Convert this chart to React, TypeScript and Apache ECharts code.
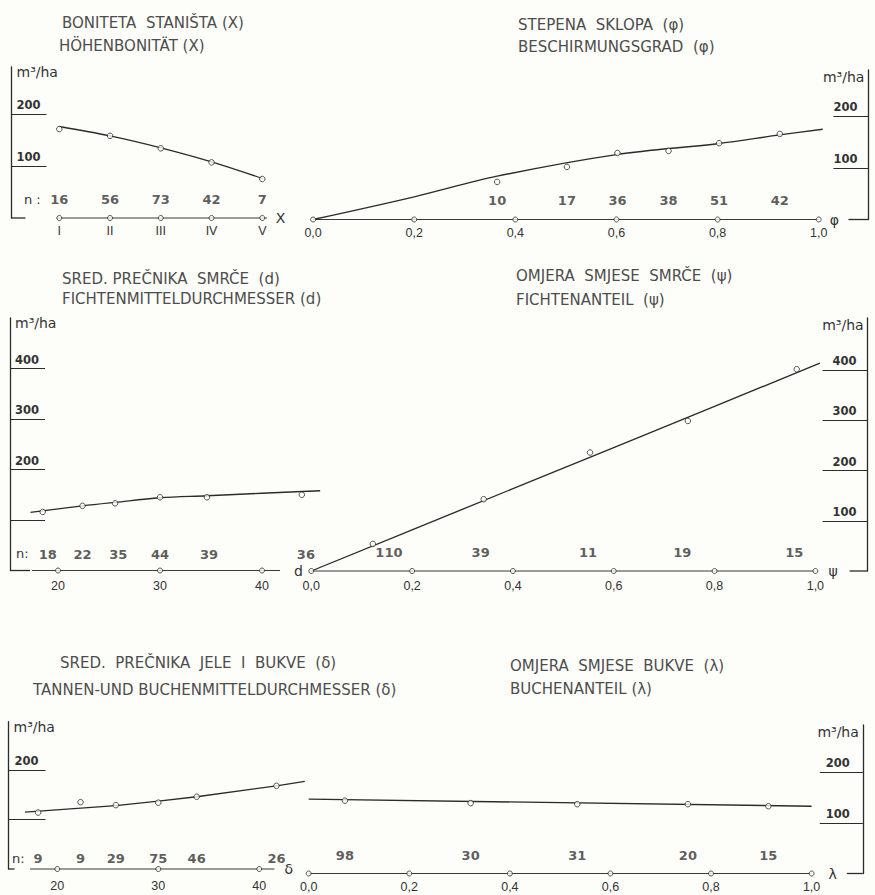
import React, { useEffect, useRef } from 'react';
import * as echarts from 'echarts';

// ---------------- data ----------------
// Panel 1: site class (X)
const siteClasses = ['I', 'II', 'III', 'IV', 'V'];
const siteClassIndex = [1, 2, 3, 4, 5];
const siteVolume = [171, 158, 134, 107, 75];
const siteFitVolume = [176, 158, 135, 108, 76];
const siteN = [16, 56, 73, 42, 7];

// shared share-axis ticks (0,0 ... 1,0)
const shareTicks = [0, 0.2, 0.4, 0.6, 0.8, 1.0];

// Panel 2: canopy closure (phi)
const closure = [0.364, 0.502, 0.602, 0.703, 0.803, 0.923];
const closureVolume = [73, 102, 129, 133, 148, 166];
const closureN = [10, 17, 36, 38, 51, 42];
const closureFitX = [0, 0.2, 0.364, 0.6, 0.8, 0.923, 1.008];
const closureFitY = [0, 44, 84, 126, 147, 164, 175];

// diameter ticks
const diameterTicks = [20, 30, 40];

// Panel 3: spruce mean diameter (d)
const spruceDiam = [18.5, 22.4, 25.6, 30.0, 34.6, 43.9];
const spruceDiamVolume = [116, 128, 133, 145, 145, 150];
const spruceDiamNX = [19.0, 22.4, 25.9, 30.0, 34.8, 44.3];
const spruceDiamN = [18, 22, 35, 44, 39, 36];
const spruceDiamFitX = [17.3, 22.4, 25.6, 30, 34.6, 40, 45.7];
const spruceDiamFitY = [115, 128, 135, 144, 148, 153, 158];

// Panel 4: spruce share (psi)
const spruceShare = [0.122, 0.342, 0.553, 0.747, 0.963];
const spruceShareVolume = [54, 143, 236, 299, 402];
const spruceShareNX = [0.154, 0.336, 0.549, 0.736, 0.958];
const spruceShareN = [110, 39, 11, 19, 15];
const spruceShareFitX = [0, 0.2, 0.4, 0.6, 0.8, 1.009];
const spruceShareFitY = [0, 82, 164, 246, 328, 414];

// Panel 5: fir & beech mean diameter (delta)
const firBeechDiam = [18.1, 22.3, 25.8, 30.0, 33.8, 41.7];
const firBeechDiamVolume = [114, 135, 129, 134, 146, 168];
const firBeechDiamN = [9, 9, 29, 75, 46, 26];
const firBeechFitX = [16.8, 25.8, 30, 33.8, 41.7, 44.5];
const firBeechFitY = [115, 128, 137, 146, 168, 177];

// Panel 6: beech share (lambda)
const beechShare = [0.072, 0.322, 0.534, 0.754, 0.914];
const beechShareVolume = [144, 139, 137, 137, 133];
const beechShareN = [98, 30, 31, 20, 15];
const beechFitX = [0, 1.0];
const beechFitY = [147, 133];

// y ticks / labels
const yTicks200 = [100, 200];
const yTicks400 = [100, 200, 300, 400];
const yLabels3 = [200, 300, 400];
const yLabels5 = [200];

// ---------------- styling ----------------
const BG = '#fdfdfa';
const INK = '#2b2b2b';
const TEXT = '#333333';
const TITLE = '#4d4d4d';
const FONT = '"DejaVu Sans", sans-serif';
const LFONT = '"Liberation Sans", Arial, sans-serif';

const fmtShare = (v: number) => v.toFixed(1).replace('.', ',');
const fmtRoman = (v: number) => siteClasses[siteClassIndex.indexOf(Math.round(v))] || '';
const fmtInt = (v: number) => String(v);

type Panel = {
  grid: { left: number; top: number; width: number; height: number };
  xMin: number; xMax: number; yMax: number; side: 'left' | 'right';
  xTicks: number[]; xFormat: (v: number) => string; xLabelMargin: number;
  yTicks: number[]; yLabels: number[]; tickLen: number; yLabelMargin: number;
  rulerStart: number; rulerEnd: number; rulerName: string; rulerNameGap: number;
  footLen: number;
  px: number[]; py: number[]; nx: number[]; n: number[]; nGap: number;
  fx: number[]; fy: number[]; smooth: boolean;
};

const panels: Panel[] = [
  {
    grid: { left: 11.5, top: 67, width: 264, height: 151 },
    xMin: 0.058, xMax: 5.26, yMax: 290.4, side: 'left',
    xTicks: siteClassIndex, xFormat: fmtRoman, xLabelMargin: 6,
    yTicks: yTicks200, yLabels: yTicks200, tickLen: 35, yLabelMargin: 5,
    rulerStart: 0.95, rulerEnd: 5.09, rulerName: 'X', rulerNameGap: 9,
    footLen: 14,
    px: siteClassIndex, py: siteVolume, nx: siteClassIndex, n: siteN, nGap: 12,
    fx: siteClassIndex, fy: siteFitVolume, smooth: true,
  },
  {
    grid: { left: 313.1, top: 70, width: 555.3, height: 149.5 },
    xMin: 0, xMax: 1.0983, yMax: 290, side: 'right',
    xTicks: shareTicks, xFormat: fmtShare, xLabelMargin: 7,
    yTicks: yTicks200, yLabels: yTicks200, tickLen: 35, yLabelMargin: 11,
    rulerStart: 0, rulerEnd: 1, rulerName: 'φ', rulerNameGap: 11,
    footLen: 20,
    px: closure, py: closureVolume, nx: closure, n: closureN, nGap: 12,
    fx: closureFitX, fy: closureFitY, smooth: true,
  },
  {
    grid: { left: 10, top: 318, width: 312, height: 252.5 },
    xMin: 15.294, xMax: 45.88, yMax: 500, side: 'left',
    xTicks: diameterTicks, xFormat: fmtInt, xLabelMargin: 9,
    yTicks: yTicks400, yLabels: yLabels3, tickLen: 35, yLabelMargin: 5,
    rulerStart: 17.45, rulerEnd: 41.76, rulerName: 'd', rulerNameGap: 14,
    footLen: 20,
    px: spruceDiam, py: spruceDiamVolume, nx: spruceDiamNX, n: spruceDiamN, nGap: 9,
    fx: spruceDiamFitX, fy: spruceDiamFitY, smooth: true,
  },
  {
    grid: { left: 311.3, top: 318, width: 556.3, height: 253 },
    xMin: 0, xMax: 1.1036, yMax: 504, side: 'right',
    xTicks: shareTicks, xFormat: fmtShare, xLabelMargin: 8,
    yTicks: yTicks400, yLabels: yTicks400, tickLen: 45, yLabelMargin: 11,
    rulerStart: 0, rulerEnd: 1, rulerName: 'ψ', rulerNameGap: 13,
    footLen: 18,
    px: spruceShare, py: spruceShareVolume, nx: spruceShareNX, n: spruceShareN, nGap: 12,
    fx: spruceShareFitX, fy: spruceShareFitY, smooth: false,
  },
  {
    grid: { left: 8.5, top: 721.7, width: 303.5, height: 147.3 },
    xMin: 15.168, xMax: 45.22, yMax: 297.6, side: 'left',
    xTicks: diameterTicks, xFormat: fmtInt, xLabelMargin: 10,
    yTicks: yTicks200, yLabels: yLabels5, tickLen: 37, yLabelMargin: 6,
    rulerStart: 17.3, rulerEnd: 41.5, rulerName: 'δ', rulerNameGap: 10,
    footLen: 6,
    px: firBeechDiam, py: firBeechDiamVolume, nx: firBeechDiam, n: firBeechDiamN, nGap: 4,
    fx: firBeechFitX, fy: firBeechFitY, smooth: false,
  },
  {
    grid: { left: 308.7, top: 725, width: 554.1, height: 148.5 },
    xMin: 0, xMax: 1.1018, yMax: 293.5, side: 'right',
    xTicks: shareTicks, xFormat: fmtShare, xLabelMargin: 7,
    yTicks: yTicks200, yLabels: yTicks200, tickLen: 43, yLabelMargin: 13,
    rulerStart: 0, rulerEnd: 1, rulerName: 'λ', rulerNameGap: 17,
    footLen: 16,
    px: beechShare, py: beechShareVolume, nx: beechShare, n: beechShareN, nGap: 11,
    fx: beechFitX, fy: beechFitY, smooth: false,
  },
];

const titles = [
  { text: 'BONITETA  STANIŠTA (X)', x: 62, y: 22.5 },
  { text: 'HÖHENBONITÄT (X)', x: 59, y: 45.5 },
  { text: 'STEPENA  SKLOPA  (φ)', x: 518, y: 25 },
  { text: 'BESCHIRMUNGSGRAD  (φ)', x: 518, y: 47 },
  { text: 'SRED. PREČNIKA  SMRČE  (d)', x: 62, y: 279 },
  { text: 'FICHTENMITTELDURCHMESSER (d)', x: 62, y: 299 },
  { text: 'OMJERA  SMJESE  SMRČE  (ψ)', x: 516, y: 276 },
  { text: 'FICHTENANTEIL  (ψ)', x: 516, y: 300 },
  { text: 'SRED.  PREČNIKA  JELE  I  BUKVE  (δ)', x: 60, y: 663 },
  { text: 'TANNEN-UND BUCHENMITTELDURCHMESSER (δ)', x: 33, y: 690 },
  { text: 'OMJERA  SMJESE  BUKVE  (λ)', x: 510, y: 666 },
  { text: 'BUCHENANTEIL (λ)', x: 510, y: 689 },
];

const nPrefixes = [
  { text: 'n :', x: 24, y: 199 },
  { text: 'n:', x: 16, y: 553 },
  { text: 'n:', x: 12, y: 858 },
];

function buildOption() {
  const grid: any[] = [];
  const xAxis: any[] = [];
  const yAxis: any[] = [];
  const series: any[] = [];

  panels.forEach((p, i) => {
    grid.push({ ...p.grid, containLabel: false });
    xAxis.push({
      gridIndex: i, type: 'value', min: p.xMin, max: p.xMax,
      axisLine: { show: false, onZero: false }, axisTick: { show: false }, splitLine: { show: false },
      axisLabel: {
        customValues: p.xTicks, formatter: p.xFormat, margin: p.xLabelMargin,
        fontFamily: LFONT, fontSize: 12.5, color: TEXT,
      },
    });
    const left = p.side === 'left';
    yAxis.push({
      gridIndex: i, type: 'value', min: 0, max: p.yMax, position: p.side,
      splitLine: { show: false },
      axisLine: { show: true, onZero: false, lineStyle: { color: INK, width: 1.3 } },
      axisTick: { show: true, inside: true, length: p.tickLen, customValues: p.yTicks, lineStyle: { color: INK, width: 1.2 } },
      axisLabel: {
        inside: true, customValues: p.yLabels, margin: p.yLabelMargin,
        verticalAlign: 'bottom', padding: [0, 0, 3, 0],
        fontFamily: FONT, fontSize: 11.5, fontWeight: 'bold', color: TEXT,
      },
      name: 'm³/ha', nameLocation: 'end', nameGap: left ? 2 : 0,
      nameTextStyle: {
        fontFamily: FONT, fontSize: 14, color: TEXT,
        align: left ? 'left' : 'right', verticalAlign: 'top',
        padding: left ? [0, 0, 0, 5] : [0, 4, 0, 0],
      },
    });

    const ppu = p.grid.width / (p.xMax - p.xMin);
    const footData = left
      ? [[p.xMin, 0], [p.xMin + p.footLen / ppu, 0]]
      : [[p.xMax - p.footLen / ppu, 0], [p.xMax, 0]];
    const common = { xAxisIndex: i, yAxisIndex: i, silent: true };

    series.push({
      ...common, type: 'line', data: footData, symbol: 'none', clip: false,
      lineStyle: { color: INK, width: 1.3 },
    });
    series.push({
      ...common, type: 'line', data: [[p.rulerStart, 0], [p.rulerEnd, 0]], symbol: 'none', clip: false,
      lineStyle: { color: '#3a3a3a', width: 1.1 },
      endLabel: { show: true, formatter: p.rulerName, distance: p.rulerNameGap, fontFamily: FONT, fontSize: 14, color: TEXT },
    });
    series.push({
      ...common, type: 'scatter', data: p.xTicks.map((v) => [v, 0]), symbol: 'circle', symbolSize: 5, z: 3, clip: false,
      itemStyle: { color: BG, borderColor: INK, borderWidth: 1 },
    });
    series.push({
      ...common, type: 'line', data: p.fx.map((v, k) => [v, p.fy[k]]), symbol: 'none', smooth: p.smooth ? 0.35 : false,
      lineStyle: { color: INK, width: 1.35 },
    });
    series.push({
      ...common, type: 'scatter', data: p.px.map((v, k) => [v, p.py[k]]), symbol: 'circle', symbolSize: 5.5, z: 4,
      itemStyle: { color: BG, borderColor: INK, borderWidth: 1 },
    });
    series.push({
      ...common, type: 'scatter', data: p.nx.map((v, k) => [v, 0, p.n[k]]), symbolSize: 0.1, z: 5, clip: false,
      itemStyle: { color: 'rgba(0,0,0,0)' },
      label: {
        show: true, position: 'top', distance: p.nGap,
        formatter: (prm: any) => String(prm.value[2]),
        fontFamily: FONT, fontSize: 13, fontWeight: 'bold', color: TEXT,
      },
    });
  });

  return {
    animation: false,
    backgroundColor: BG,
    title: titles.map((t) => ({
      text: t.text, left: t.x, top: t.y - 8, padding: 0,
      textStyle: { fontFamily: FONT, fontSize: 15, fontWeight: 'normal', color: TITLE, lineHeight: 16 },
    })),
    graphic: nPrefixes.map((t) => ({
      type: 'text', x: t.x, y: t.y, silent: true,
      style: { text: t.text, font: '13px "DejaVu Sans", sans-serif', fill: TEXT, verticalAlign: 'middle' },
    })),
    grid, xAxis, yAxis, series,
  };
}

export default function App() {
  const ref = useRef<HTMLDivElement>(null);
  useEffect(() => {
    if (!ref.current) return;
    const chart = echarts.init(ref.current, undefined, { renderer: 'svg' });
    chart.setOption(buildOption() as any);
    return () => chart.dispose();
  }, []);
  return (
    <div
      ref={ref}
      style={{ position: 'absolute', left: 0, top: 0, width: 875, height: 895, background: BG }}
    />
  );
}
